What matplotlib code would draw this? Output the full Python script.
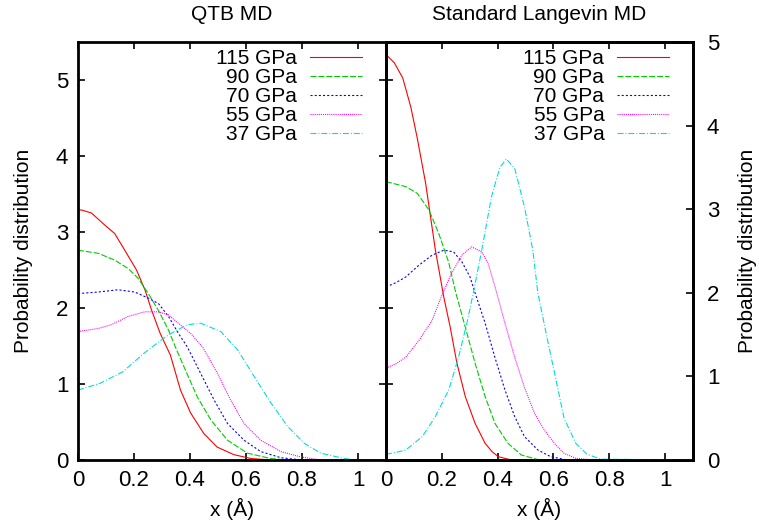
import matplotlib
matplotlib.use('Agg')
import matplotlib.pyplot as plt

plt.rcParams['font.family'] = ['Liberation Sans', 'DejaVu Sans']
plt.rcParams['lines.scale_dashes'] = False

LABELS = ['115 GPa', '90 GPa', '70 GPa', '55 GPa', '37 GPa']
COLORS = ['#ff0000', '#00cc00', '#0000ff', '#ff00ff', '#00dddd']
STYLES = ['-', (0, (4.3, 1.4)), (0, (1.5, 1.5)), (0, (0.75, 0.75)),
          (0, (4.3, 1.4, 0.7, 1.4))]

# ---- QTB MD (left panel) ----
qtb_x = [
    [0.0, 0.012, 0.048, 0.096, 0.131, 0.167, 0.209, 0.239, 0.263, 0.293, 0.33, 0.366, 0.402, 0.449, 0.497, 0.557, 0.617, 0.687, 1.1],
    [0.0, 0.072, 0.131, 0.179, 0.215, 0.251, 0.287, 0.323, 0.352, 0.378, 0.426, 0.474, 0.534, 0.605, 0.687, 0.75, 1.1],
    [0.0, 0.072, 0.143, 0.203, 0.251, 0.287, 0.323, 0.358, 0.39, 0.438, 0.486, 0.534, 0.593, 0.653, 0.725, 0.8, 1.1],
    [0.0, 0.072, 0.119, 0.179, 0.239, 0.287, 0.323, 0.358, 0.404, 0.446, 0.498, 0.545, 0.593, 0.653, 0.725, 0.796, 0.87, 1.1],
    [0.0, 0.079, 0.16, 0.234, 0.305, 0.33, 0.39, 0.438, 0.51, 0.57, 0.629, 0.689, 0.749, 0.808, 0.867, 0.95, 1.0, 1.1],
]
qtb_y = [
    [3.29, 3.29, 3.25, 3.09, 2.98, 2.76, 2.5, 2.24, 1.97, 1.67, 1.38, 0.92, 0.62, 0.35, 0.17, 0.07, 0.02, 0.0, 0.0],
    [2.76, 2.72, 2.63, 2.52, 2.39, 2.19, 1.97, 1.71, 1.45, 1.23, 0.83, 0.53, 0.26, 0.09, 0.02, 0.0, 0.0],
    [2.19, 2.21, 2.24, 2.21, 2.13, 2.06, 1.89, 1.67, 1.49, 1.14, 0.79, 0.48, 0.26, 0.11, 0.03, 0.0, 0.0],
    [1.69, 1.73, 1.78, 1.89, 1.95, 1.95, 1.91, 1.8, 1.66, 1.48, 1.14, 0.79, 0.48, 0.26, 0.11, 0.04, 0.0, 0.0],
    [0.92, 1.01, 1.16, 1.4, 1.6, 1.66, 1.78, 1.8, 1.69, 1.45, 1.1, 0.75, 0.44, 0.22, 0.09, 0.02, 0.0, 0.0],
]

# ---- Standard Langevin MD (right panel) ----
lang_x = [
    [0.0, 0.03, 0.06, 0.089, 0.112, 0.142, 0.177, 0.207, 0.23, 0.254, 0.284, 0.319, 0.355, 0.38, 0.402, 0.45, 1.1],
    [0.0, 0.035, 0.071, 0.112, 0.154, 0.189, 0.225, 0.25, 0.284, 0.319, 0.355, 0.39, 0.437, 0.485, 0.55, 1.1],
    [0.0, 0.035, 0.071, 0.118, 0.165, 0.207, 0.242, 0.272, 0.301, 0.319, 0.355, 0.39, 0.426, 0.461, 0.496, 0.544, 0.59, 0.65, 1.1],
    [0.0, 0.035, 0.071, 0.118, 0.165, 0.2, 0.236, 0.272, 0.307, 0.343, 0.366, 0.39, 0.426, 0.461, 0.496, 0.532, 0.567, 0.603, 0.638, 0.68, 0.75, 1.1],
    [0.0, 0.035, 0.071, 0.13, 0.177, 0.225, 0.26, 0.29, 0.313, 0.343, 0.378, 0.408, 0.431, 0.461, 0.496, 0.526, 0.544, 0.579, 0.609, 0.638, 0.68, 0.72, 0.77, 1.1],
]
lang_y = [
    [4.85, 4.75, 4.57, 4.22, 3.85, 3.31, 2.51, 1.95, 1.59, 1.16, 0.76, 0.44, 0.2, 0.1, 0.04, 0.0, 0.0],
    [3.33, 3.3, 3.27, 3.19, 2.99, 2.71, 2.36, 2.0, 1.59, 1.16, 0.76, 0.44, 0.2, 0.06, 0.0, 0.0],
    [2.07, 2.12, 2.19, 2.33, 2.45, 2.51, 2.49, 2.37, 2.19, 2.0, 1.64, 1.23, 0.84, 0.52, 0.28, 0.12, 0.04, 0.0, 0.0],
    [1.1, 1.15, 1.23, 1.43, 1.67, 1.97, 2.24, 2.45, 2.55, 2.49, 2.35, 2.08, 1.64, 1.23, 0.87, 0.56, 0.36, 0.2, 0.08, 0.02, 0.0, 0.0],
    [0.07, 0.09, 0.12, 0.28, 0.52, 0.84, 1.23, 1.64, 2.0, 2.51, 3.15, 3.5, 3.6, 3.49, 3.03, 2.51, 2.0, 1.43, 0.96, 0.5, 0.2, 0.07, 0.01, 0.0],
]

X_TICKS = [0, 0.2, 0.4, 0.6, 0.8, 1]
X_TICKLABELS = ['0', '0.2', '0.4', '0.6', '0.8', '1']
Y_TICKS = [0, 1, 2, 3, 4, 5]

FS = 15
TICK_FS = 16
LEG_FS = 15

fig = plt.figure(figsize=(7.59, 5.24), dpi=100)
W, H = 759, 524
ax1 = fig.add_axes([78 / W, 64 / H, 308 / W, 418 / H])
ax2 = fig.add_axes([386 / W, 64 / H, 307 / W, 418 / H])
ax2r = ax2.twinx()


def style_axes(ax):
    for s in ax.spines.values():
        s.set_linewidth(2)
    ax.tick_params(direction='in', length=5, width=1.2, labelsize=TICK_FS)


def draw(ax, xs, ys):
    for x, y, c, ls, lab in zip(xs, ys, COLORS, STYLES, LABELS):
        ax.plot(x, y, color=c, linestyle=ls, linewidth=0.8, label=lab)
    ax.legend(loc='upper right', bbox_to_anchor=(0.935, 0.993), frameon=False,
              fontsize=LEG_FS, markerfirst=False, handlelength=2.5,
              handletextpad=0.6, labelspacing=0.0, borderaxespad=0.0,
              borderpad=0.2)


# left panel
draw(ax1, qtb_x, qtb_y)
ax1.set_xlim(0, 1.1)
ax1.set_ylim(0, 5.5)
ax1.set_xticks(X_TICKS, X_TICKLABELS)
ax1.set_yticks(Y_TICKS)
style_axes(ax1)
ax1.tick_params(top=True, right=True, pad=7)
ax1.set_title('QTB MD', fontsize=FS, pad=16)
ax1.set_xlabel('x (Å)', fontsize=FS)
ax1.set_ylabel('Probability distribution', fontsize=FS)
ax1.xaxis.set_label_coords(0.5, -0.09)
ax1.yaxis.set_label_coords(-0.145, 0.5)

# right panel
ax2.set_xlim(0, 1.1)
ax2.set_ylim(0, 5.5)
ax2.set_xticks(X_TICKS, X_TICKLABELS)
ax2.set_yticks(Y_TICKS)
style_axes(ax2)
ax2.tick_params(top=True, right=False, labelleft=False, pad=7)
ax2.set_title('Standard Langevin MD', fontsize=FS, pad=16)
ax2.set_xlabel('x (Å)', fontsize=FS)
ax2.xaxis.set_label_coords(0.5, -0.09)

draw(ax2r, lang_x, lang_y)
ax2r.set_ylim(0, 5)
ax2r.set_yticks(Y_TICKS)
style_axes(ax2r)
ax2r.tick_params(pad=10)
ax2r.set_ylabel('Probability distribution', fontsize=FS)
ax2r.yaxis.set_label_coords(1.147, 0.5)

fig.savefig('out.png', dpi=100)
